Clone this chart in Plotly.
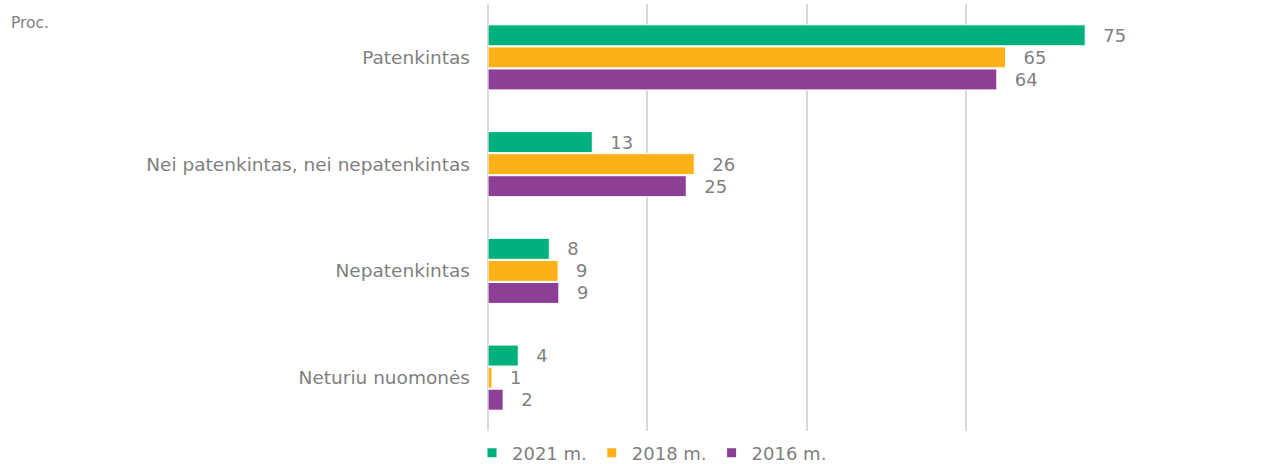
import plotly.graph_objects as go

categories = ["Patenkintas", "Nei patenkintas, nei nepatenkintas", "Nepatenkintas", "Neturiu nuomonės"]
series_names = ["2021 m.", "2018 m.", "2016 m."]
values_2021 = [75.0, 13.1, 7.7, 3.8]
values_2018 = [65.0, 25.9, 8.8, 0.5]
values_2016 = [63.9, 24.9, 8.9, 1.9]
labels_2021 = ["75", "13", "8", "4"]
labels_2018 = ["65", "26", "9", "1"]
labels_2016 = ["64", "25", "9", "2"]
colors = ["#00B07D", "#FDB119", "#8D3F96"]
x_ticks = [0, 20, 40, 60, 80]

W, H = 1275, 490
PLOT_BOTTOM = 431
ml, mr, mt, mb = 488, W - 1125, 4, H - PLOT_BOTTOM
FONT = "DejaVu Sans"
GREY = "#7F7F7F"

fig = go.Figure()
PAD = "\u00a0\u00a0\u2009"
for name, vals, labs, col in zip(series_names,
                                 [values_2021, values_2018, values_2016],
                                 [labels_2021, labels_2018, labels_2016],
                                 colors):
    fig.add_trace(go.Bar(
        y=categories, x=vals, name=name, orientation="h",
        marker=dict(color=col, line=dict(color="white", width=1)),
        text=[PAD + l for l in labs], textposition="outside",
        textfont=dict(color=GREY, size=18, family=FONT),
        cliponaxis=False, showlegend=False, legendgroup=name,
    ))
    # legend entry with a small square marker
    fig.add_trace(go.Scatter(
        x=[None], y=[None], mode="markers", name=name, legendgroup=name,
        marker=dict(symbol="square", size=9, color=col),
        showlegend=True, hoverinfo="skip",
    ))

ph = PLOT_BOTTOM - mt
fig.update_layout(
    width=W, height=H,
    margin=dict(l=ml, r=mr, t=mt, b=mb),
    paper_bgcolor="white", plot_bgcolor="white",
    barmode="group", bargap=0.38, bargroupgap=0.05,
    font=dict(family=FONT, color=GREY, size=18),
    xaxis=dict(range=[0, 80], tickvals=x_ticks, showticklabels=False,
               showgrid=True, gridcolor="#D9D9D9", gridwidth=2,
               zeroline=True, zerolinecolor="#D9D9D9", zerolinewidth=2,
               fixedrange=True),
    yaxis=dict(autorange="reversed", showgrid=False, ticks="",
               ticklabelstandoff=17, categoryorder="array", categoryarray=categories,
               tickfont=dict(size=18.5, color=GREY)),
    legend=dict(orientation="h", x=(652 - ml) / (W - ml - mr), xanchor="center",
                y=-(453 - PLOT_BOTTOM) / ph, yanchor="middle",
                font=dict(size=18, color=GREY), itemwidth=30,
                traceorder="normal", tracegroupgap=0),
    showlegend=True,
)

fig.add_annotation(text="Proc.", xref="paper", yref="paper",
                   x=-(ml - 9) / (W - ml - mr), xanchor="left",
                   y=1 + (mt - 23) / ph, yanchor="middle",
                   showarrow=False, font=dict(size=15.5, color=GREY))

fig.write_html("out.html", config={"displayModeBar": False},
               post_script="document.body.style.margin='0';document.body.style.overflow='hidden';")
